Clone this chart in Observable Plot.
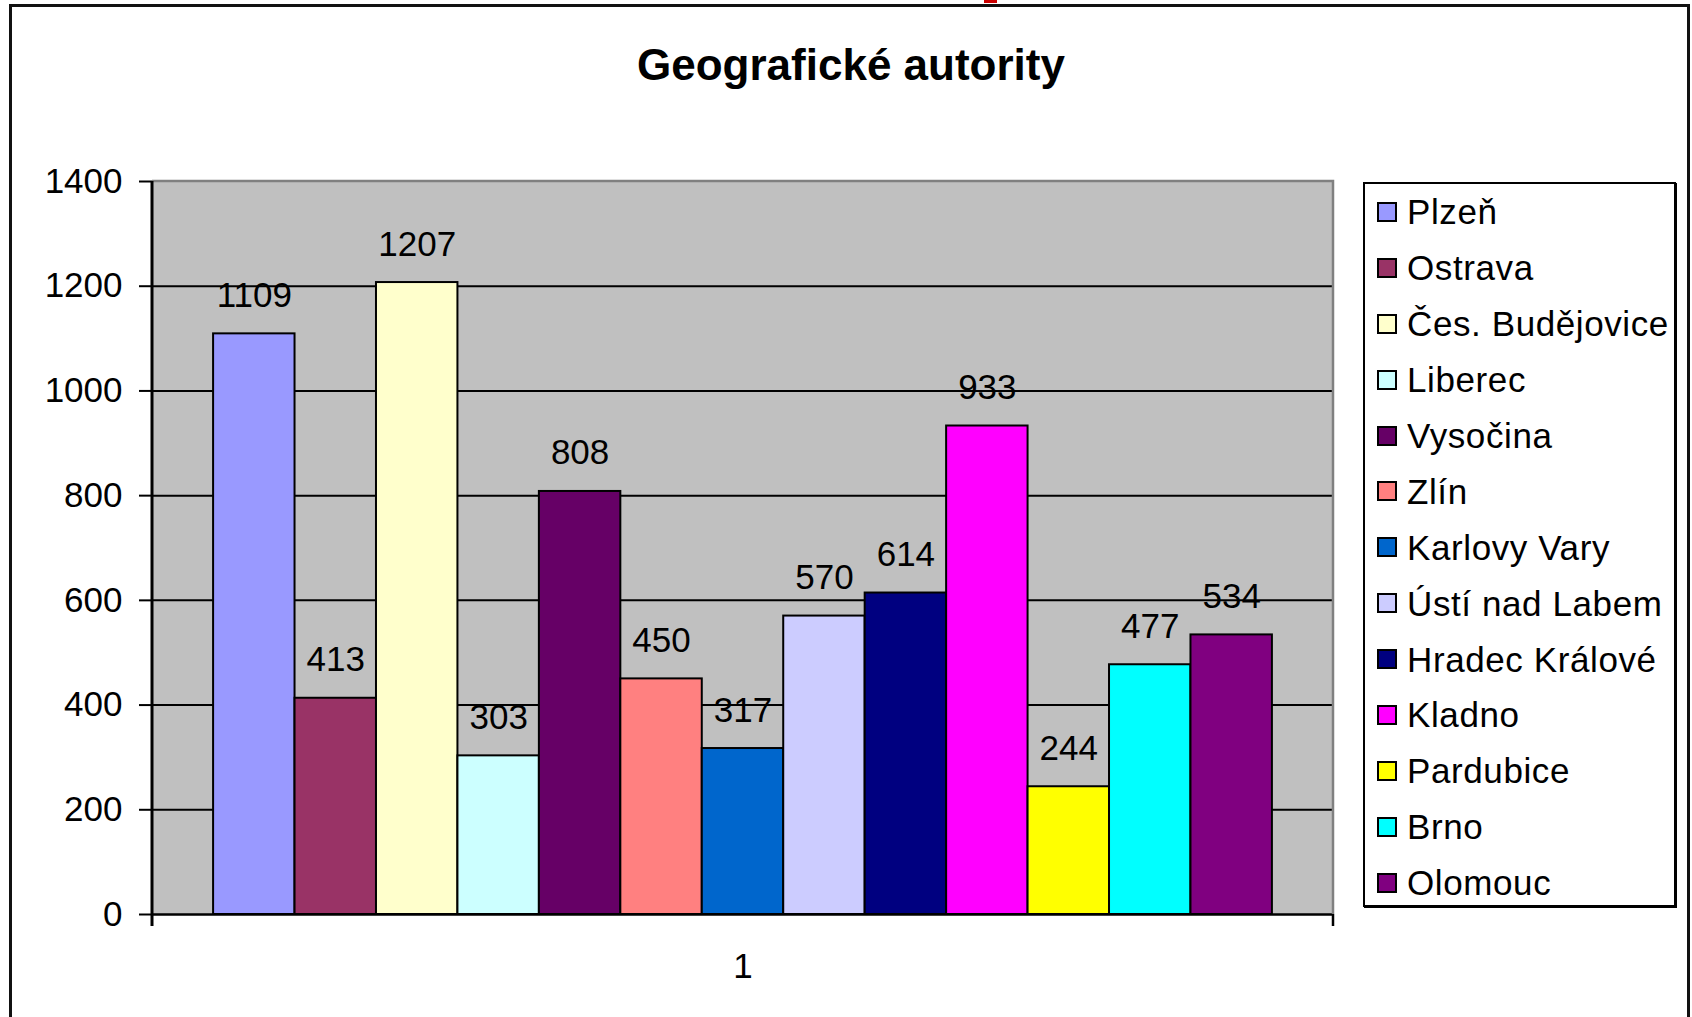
<!DOCTYPE html>
<html>
<head>
<meta charset="utf-8">
<script src="https://cdn.jsdelivr.net/npm/d3@7"></script>
<script src="https://cdn.jsdelivr.net/npm/@observablehq/plot@0.6"></script>
<style>
  html, body { margin: 0; padding: 0; background: #fff; width: 1692px; height: 1017px; overflow: hidden; }
  body { position: relative; font-family: "Liberation Sans", Arial, sans-serif; }
  #frame { position: absolute; left: 9px; top: 4px; width: 1681px; height: 1100px; border: 3px solid #111; box-sizing: border-box; }
  #mark { position: absolute; left: 984px; top: 0; width: 13px; height: 3px; background: #cc0000; }
  #title { position: absolute; left: 851px; top: 43px; transform: translateX(-50%); font-weight: bold; font-size: 44px; line-height: 1; white-space: nowrap; color: #000; }
  #chart { position: absolute; left: 0; top: 0; }
  #legend { position: absolute; left: 1363px; top: 182px; width: 313px; height: 725px; border: 2px solid #000; box-shadow: 1px 1px 0 #000; background: #fff; box-sizing: border-box; padding-top: 0px; }
  .item { display: flex; align-items: center; height: 55.9px; }
  .sw { width: 20px; height: 20px; border: 2px solid #000; box-sizing: border-box; margin-left: 12px; margin-right: 10px; flex: none; }
  .lb { font-size: 35px; line-height: 1; color: #000; white-space: nowrap; letter-spacing: 0.6px; }
</style>
</head>
<body>
<div id="frame"></div>
<div id="mark"></div>
<div id="title"></div>
<div id="chart"></div>
<div id="legend"></div>
<script>
const title = "Geografické autority";
const cities = ["Plzeň", "Ostrava", "Čes. Budějovice", "Liberec", "Vysočina", "Zlín", "Karlovy Vary", "Ústí nad Labem", "Hradec Králové", "Kladno", "Pardubice", "Brno", "Olomouc"];
const values = [1109, 413, 1207, 303, 808, 450, 317, 570, 614, 933, 244, 477, 534];
const colors = ["#9999FF", "#993366", "#FFFFCC", "#CCFFFF", "#660066", "#FF8080", "#0066CC", "#CCCCFF", "#000080", "#FF00FF", "#FFFF00", "#00FFFF", "#800080"];
const yTicks = [0, 200, 400, 600, 800, 1000, 1200, 1400];
const gridValues = [200, 400, 600, 800, 1000, 1200];
const categoryLabels = ["1"];

const data = cities.map((c, i) => ({city: c, value: values[i]}));

document.getElementById("title").textContent = title;

// Plot-area border, axis line and end ticks drawn from the plot's dimensions & scales
function areaDecor(index, scales, vals, dims) {
  const x0 = dims.marginLeft, x1 = dims.width - dims.marginRight;
  const yTop = scales.y(1400), y0 = scales.y(0);
  const g = d3.create("svg:g");
  g.append("path")
    .attr("d", `M${x0},${yTop}H${x1}V${y0}`)
    .attr("fill", "none").attr("stroke", "#808080").attr("stroke-width", 2.5);
  g.append("line").attr("x1", x0).attr("x2", x0).attr("y1", yTop).attr("y2", y0 + 12)
    .attr("stroke", "#000").attr("stroke-width", 3);
  g.append("line").attr("x1", x1).attr("x2", x1).attr("y1", y0).attr("y2", y0 + 12)
    .attr("stroke", "#000").attr("stroke-width", 2.5);
  return g.node();
}

const chart = Plot.plot({
  width: 1692,
  height: 1017,
  marginLeft: 152,
  marginRight: 359,
  marginTop: 181,
  marginBottom: 103,
  style: {background: "transparent", fontFamily: "'Liberation Sans', Arial, sans-serif", color: "#000", overflow: "visible"},
  x: {type: "band", domain: cities, paddingInner: 0, paddingOuter: 0.75, round: false, axis: null},
  y: {domain: [0, 1400], axis: null},
  color: {type: "ordinal", domain: cities, range: colors, legend: false},
  marks: [
    Plot.frame({fill: "#C0C0C0", stroke: null}),
    Plot.ruleY(gridValues, {stroke: "#000", strokeWidth: 2}),
    Plot.barY(data, {x: "city", y: "value", fill: "city", stroke: "#000", strokeWidth: 2}),
    Plot.ruleY([0], {stroke: "#000", strokeWidth: 2.5}),
    areaDecor,
    Plot.text(data, {x: "city", y: "value", text: d => String(d.value), lineAnchor: "bottom", dy: -27, fontSize: 35, fill: "#000"}),
    Plot.axisY({ticks: yTicks, tickSize: 13, tickPadding: 17, fontSize: 35, strokeWidth: 2, stroke: "#000", label: null, tickFormat: d => String(d)}),
    Plot.text(categoryLabels, {text: d => d, frameAnchor: "bottom", dy: 63, fontSize: 35, fill: "#000"})
  ]
});
document.getElementById("chart").appendChild(chart);

const legend = d3.select("#legend");
cities.forEach((c, i) => {
  const row = legend.append("div").attr("class", "item");
  row.append("div").attr("class", "sw").style("background", colors[i]);
  row.append("div").attr("class", "lb").text(c);
});
</script>
</body>
</html>
